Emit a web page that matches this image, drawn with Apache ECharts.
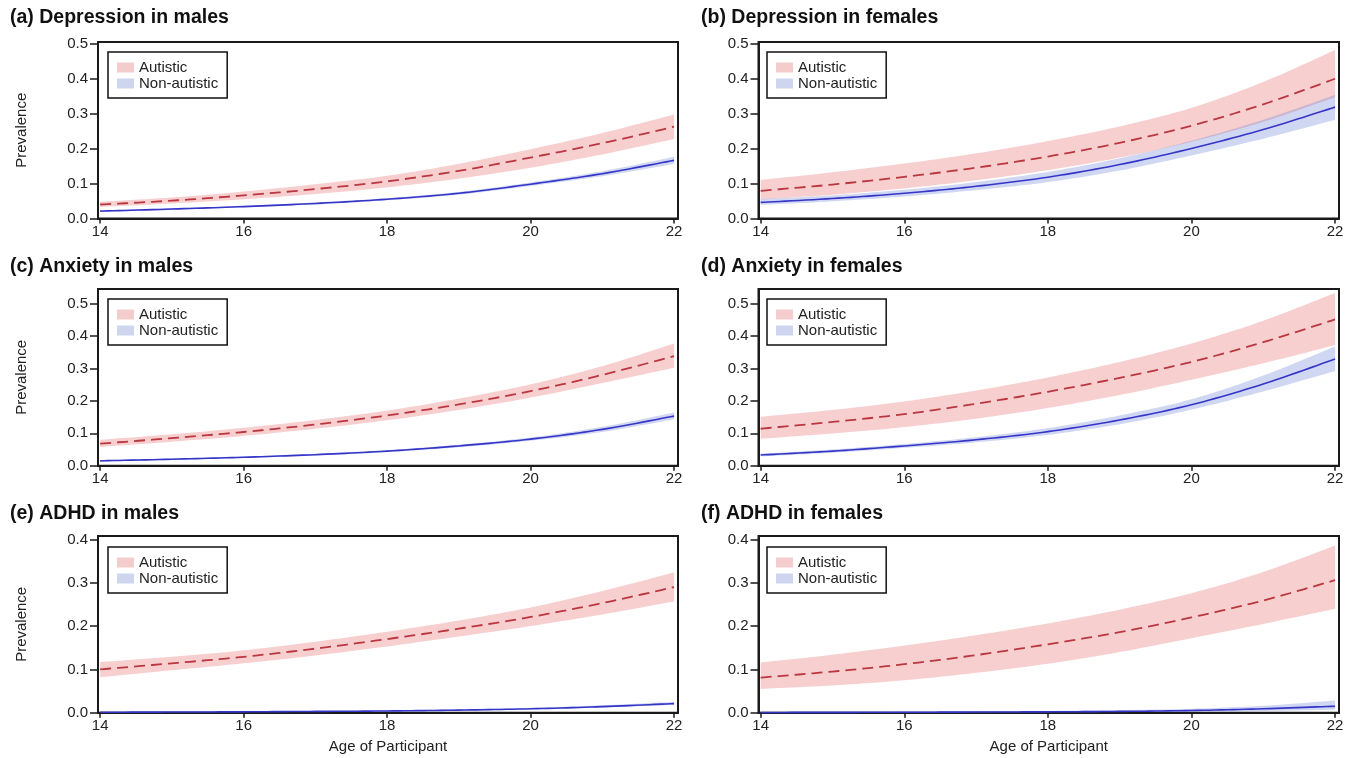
<!DOCTYPE html>
<html>
<head>
<meta charset="utf-8">
<script src="https://cdn.jsdelivr.net/npm/echarts@6/dist/echarts.min.js"></script>
<style>
html,body{margin:0;padding:0;background:#fff;}
#chart{width:1357px;height:758px;}
</style>
</head>
<body>
<div id="chart"></div>
<script>
// ---- DATA ----
const ages = [14, 15, 16, 17, 18, 19, 20, 21, 22];
const xTicks = [14, 16, 18, 20, 22];
const yTicks05 = [0, 0.1, 0.2, 0.3, 0.4, 0.5];
const yTicks04 = [0, 0.1, 0.2, 0.3, 0.4];
const panelTitles = ['(a) Depression in males', '(b) Depression in females', '(c) Anxiety in males',
  '(d) Anxiety in females', '(e) ADHD in males', '(f) ADHD in females'];
const groupNames = ['Autistic', 'Non-autistic'];

// (a) Depression, males
const depMaleAutMean = [0.040, 0.051, 0.066, 0.084, 0.106, 0.136, 0.174, 0.215, 0.262];
const depMaleAutLow  = [0.033, 0.043, 0.055, 0.070, 0.089, 0.114, 0.145, 0.183, 0.227];
const depMaleAutHigh = [0.048, 0.060, 0.077, 0.098, 0.122, 0.156, 0.198, 0.244, 0.297];
const depMaleNonMean = [0.021, 0.027, 0.034, 0.043, 0.055, 0.072, 0.098, 0.128, 0.166];
const depMaleNonLow  = [0.019, 0.025, 0.032, 0.040, 0.052, 0.068, 0.093, 0.121, 0.156];
const depMaleNonHigh = [0.023, 0.029, 0.036, 0.046, 0.058, 0.076, 0.103, 0.135, 0.176];
// (b) Depression, females
const depFemAutMean = [0.079, 0.097, 0.119, 0.145, 0.177, 0.216, 0.265, 0.326, 0.399];
const depFemAutLow  = [0.054, 0.068, 0.086, 0.109, 0.138, 0.174, 0.219, 0.276, 0.346];
const depFemAutHigh = [0.110, 0.132, 0.157, 0.186, 0.221, 0.263, 0.316, 0.390, 0.481];
const depFemNonMean = [0.046, 0.057, 0.072, 0.092, 0.118, 0.154, 0.200, 0.254, 0.318];
const depFemNonLow  = [0.039, 0.049, 0.063, 0.081, 0.104, 0.137, 0.180, 0.228, 0.282];
const depFemNonHigh = [0.055, 0.066, 0.082, 0.104, 0.133, 0.172, 0.222, 0.282, 0.353];
// (c) Anxiety, males
const anxMaleAutMean = [0.068, 0.085, 0.104, 0.127, 0.155, 0.189, 0.230, 0.280, 0.338];
const anxMaleAutLow  = [0.058, 0.074, 0.092, 0.114, 0.140, 0.172, 0.210, 0.255, 0.302];
const anxMaleAutHigh = [0.080, 0.097, 0.117, 0.141, 0.170, 0.207, 0.251, 0.307, 0.377];
const anxMaleNonMean = [0.015, 0.020, 0.026, 0.034, 0.045, 0.061, 0.082, 0.112, 0.153];
const anxMaleNonLow  = [0.013, 0.018, 0.024, 0.032, 0.042, 0.057, 0.077, 0.104, 0.143];
const anxMaleNonHigh = [0.017, 0.022, 0.028, 0.037, 0.048, 0.065, 0.087, 0.120, 0.164];
// (d) Anxiety, females
const anxFemAutMean = [0.114, 0.135, 0.159, 0.191, 0.228, 0.271, 0.320, 0.381, 0.451];
const anxFemAutLow  = [0.083, 0.099, 0.119, 0.145, 0.178, 0.218, 0.265, 0.316, 0.372];
const anxFemAutHigh = [0.151, 0.172, 0.198, 0.232, 0.272, 0.320, 0.377, 0.447, 0.533];
const anxFemNonMean = [0.033, 0.045, 0.061, 0.080, 0.105, 0.141, 0.188, 0.252, 0.329];
const anxFemNonLow  = [0.029, 0.040, 0.055, 0.072, 0.095, 0.128, 0.173, 0.229, 0.292];
const anxFemNonHigh = [0.037, 0.050, 0.067, 0.088, 0.116, 0.155, 0.205, 0.278, 0.368];
// (e) ADHD, males
const adhdMaleAutMean = [0.100, 0.114, 0.129, 0.148, 0.170, 0.194, 0.221, 0.253, 0.290];
const adhdMaleAutLow  = [0.082, 0.098, 0.114, 0.132, 0.153, 0.176, 0.200, 0.227, 0.257];
const adhdMaleAutHigh = [0.117, 0.129, 0.144, 0.164, 0.187, 0.213, 0.243, 0.281, 0.324];
const adhdMaleNonMean = [0.001, 0.0015, 0.002, 0.003, 0.004, 0.006, 0.009, 0.014, 0.021];
const adhdMaleNonLow  = [0.0005, 0.001, 0.0015, 0.002, 0.003, 0.005, 0.008, 0.012, 0.018];
const adhdMaleNonHigh = [0.0015, 0.002, 0.003, 0.004, 0.005, 0.008, 0.011, 0.017, 0.025];
// (f) ADHD, females
const adhdFemAutMean = [0.081, 0.095, 0.112, 0.133, 0.158, 0.186, 0.220, 0.259, 0.306];
const adhdFemAutLow  = [0.055, 0.063, 0.075, 0.092, 0.113, 0.140, 0.172, 0.205, 0.240];
const adhdFemAutHigh = [0.116, 0.134, 0.155, 0.179, 0.206, 0.238, 0.276, 0.325, 0.386];
const adhdFemNonMean = [0.0005, 0.0008, 0.001, 0.0015, 0.002, 0.003, 0.005, 0.009, 0.015];
const adhdFemNonLow  = [0.0002, 0.0003, 0.0005, 0.0007, 0.001, 0.0015, 0.002, 0.004, 0.007];
const adhdFemNonHigh = [0.001, 0.0015, 0.002, 0.003, 0.004, 0.006, 0.009, 0.016, 0.028];

const panelData = [
  [depMaleAutMean, depMaleAutLow, depMaleAutHigh, depMaleNonMean, depMaleNonLow, depMaleNonHigh, yTicks05],
  [depFemAutMean, depFemAutLow, depFemAutHigh, depFemNonMean, depFemNonLow, depFemNonHigh, yTicks05],
  [anxMaleAutMean, anxMaleAutLow, anxMaleAutHigh, anxMaleNonMean, anxMaleNonLow, anxMaleNonHigh, yTicks05],
  [anxFemAutMean, anxFemAutLow, anxFemAutHigh, anxFemNonMean, anxFemNonLow, anxFemNonHigh, yTicks05],
  [adhdMaleAutMean, adhdMaleAutLow, adhdMaleAutHigh, adhdMaleNonMean, adhdMaleNonLow, adhdMaleNonHigh, yTicks04],
  [adhdFemAutMean, adhdFemAutLow, adhdFemAutHigh, adhdFemNonMean, adhdFemNonLow, adhdFemNonHigh, yTicks04]
];

// ---- LAYOUT / STYLE ----
const FONT = "'Liberation Sans', Arial, sans-serif";
const layout = [
  {left: 98,    top: 42,  width: 580,   height: 176.5, yMax: 0.504, tl: 10,  tt: 8,   ll: 108, lt: 52,  yName: true,  xName: false},
  {left: 758.5, top: 42,  width: 580.5, height: 176.5, yMax: 0.504, tl: 701, tt: 8,   ll: 767, lt: 52,  yName: false, xName: false},
  {left: 98,    top: 289, width: 580,   height: 176.7, yMax: 0.545, tl: 10,  tt: 257, ll: 108, lt: 299, yName: true,  xName: false},
  {left: 758.5, top: 289, width: 580.5, height: 176.7, yMax: 0.545, tl: 701, tt: 257, ll: 767, lt: 299, yName: false, xName: false},
  {left: 98,    top: 536, width: 580,   height: 176.7, yMax: 0.408, tl: 10,  tt: 504, ll: 108, lt: 547, yName: true,  xName: true},
  {left: 758.5, top: 536, width: 580.5, height: 176.7, yMax: 0.408, tl: 701, tt: 504, ll: 767, lt: 547, yName: false, xName: true}
];
const AUT_LINE = '#ba3740', NON_LINE = '#3535c8';
const AUT_BAND = 'rgba(233,128,128,0.38)', NON_BAND = 'rgba(110,130,215,0.32)';
const AUT_SWATCH = '#f5cccc', NON_SWATCH = '#cdd5ef';

const pts = arr => ages.map((a, i) => [a, arr[i]]);

// Smooth (Catmull-Rom) curve through pixel points returned by the axis scales
function spline(P, steps) {
  const out = [];
  const n = P.length;
  for (let i = 0; i < n - 1; i++) {
    const p0 = P[Math.max(i - 1, 0)], p1 = P[i], p2 = P[i + 1], p3 = P[Math.min(i + 2, n - 1)];
    const m1 = [(p2[0] - p0[0]) / 2, (p2[1] - p0[1]) / 2];
    const m2 = [(p3[0] - p1[0]) / 2, (p3[1] - p1[1]) / 2];
    for (let s = 0; s < steps; s++) {
      const t = s / steps, t2 = t * t, t3 = t2 * t;
      const h00 = 2 * t3 - 3 * t2 + 1, h10 = t3 - 2 * t2 + t, h01 = -2 * t3 + 3 * t2, h11 = t3 - t2;
      out.push([h00 * p1[0] + h10 * m1[0] + h01 * p2[0] + h11 * m2[0],
                h00 * p1[1] + h10 * m1[1] + h01 * p2[1] + h11 * m2[1]]);
    }
  }
  out.push(P[n - 1]);
  return out;
}

function bandSeries(name, p, lo, hi, color, z) {
  return {
    type: 'custom', name, xAxisIndex: p, yAxisIndex: p, z, silent: true,
    itemStyle: {color},
    data: ages.map((a, i) => [a, lo[i], hi[i]]),
    encode: {x: 0, y: [1, 2]},
    renderItem: function (params, api) {
      if (params.dataIndex !== 0) return null;
      const up = spline(ages.map((a, i) => api.coord([a, hi[i]])), 12);
      const dn = spline(ages.map((a, i) => api.coord([a, lo[i]])), 12).reverse();
      return {type: 'polygon', shape: {points: up.concat(dn)}, style: {fill: color}, silent: true};
    }
  };
}

function meanSeries(name, p, vals, lineStyle) {
  return {
    type: 'custom', name, xAxisIndex: p, yAxisIndex: p, z: 5, silent: true,
    data: pts(vals), encode: {x: 0, y: 1},
    renderItem: function (params, api) {
      if (params.dataIndex !== 0) return null;
      const line = spline(ages.map((a, i) => api.coord([a, vals[i]])), 12);
      return {type: 'polyline', shape: {points: line},
        style: Object.assign({fill: null}, lineStyle), silent: true};
    }
  };
}

const grid = [], xAxis = [], yAxis = [], series = [], title = [], legend = [];
layout.forEach((L, p) => {
  const [aM, aL, aH, nM, nL, nH, yT] = panelData[p];
  grid.push({left: L.left, top: L.top, width: L.width, height: L.height, show: true,
    borderColor: '#1a1a1a', borderWidth: 2, backgroundColor: 'transparent'});
  xAxis.push({type: 'value', gridIndex: p, min: 13.97, max: 22.055,
    axisLine: {show: true, lineStyle: {color: '#1a1a1a', width: 2}},
    axisTick: {show: true, length: 5, customValues: xTicks, lineStyle: {color: '#1a1a1a', width: 1.5}},
    axisLabel: {customValues: xTicks, color: '#222', fontSize: 15, fontFamily: FONT, margin: 6},
    splitLine: {show: false},
    name: L.xName ? 'Age of Participant' : '', nameLocation: 'middle', nameGap: 27,
    nameTextStyle: {color: '#222', fontSize: 15, fontFamily: FONT}});
  yAxis.push({type: 'value', gridIndex: p, min: 0, max: L.yMax,
    axisLine: {show: true, lineStyle: {color: '#1a1a1a', width: 2}},
    axisTick: {show: true, length: 8, customValues: yT, lineStyle: {color: '#1a1a1a', width: 1.5}},
    axisLabel: {customValues: yT, color: '#222', fontSize: 15, fontFamily: FONT, margin: 10,
      formatter: v => v.toFixed(1)},
    splitLine: {show: false},
    name: L.yName ? 'Prevalence' : '', nameLocation: 'middle', nameGap: 69, nameRotate: 90,
    nameTextStyle: {color: '#222', fontSize: 15, fontFamily: FONT}});
  title.push({text: panelTitles[p], left: L.tl, top: L.tt, padding: 0,
    textStyle: {fontSize: 19.5, fontWeight: 'bold', color: '#111', fontFamily: FONT}});
  legend.push({left: L.ll, top: L.lt, orient: 'vertical', padding: [8, 9, 7, 9], itemGap: 1,
    itemWidth: 17, itemHeight: 10, borderColor: '#111', borderWidth: 1.5, backgroundColor: '#fff',
    selectedMode: false,
    textStyle: {fontSize: 15, color: '#222', fontFamily: FONT},
    data: [{name: groupNames[0], icon: 'rect', itemStyle: {color: AUT_SWATCH, borderWidth: 0}},
           {name: groupNames[1], icon: 'rect', itemStyle: {color: NON_SWATCH, borderWidth: 0}}]});
  series.push(bandSeries(groupNames[0], p, aL, aH, AUT_BAND, 2));
  series.push(bandSeries(groupNames[1], p, nL, nH, NON_BAND, 3));
  series.push(meanSeries('aut-mean-' + p, p, aM, {stroke: AUT_LINE, lineWidth: 1.8, lineDash: [11, 6]}));
  series.push(meanSeries('non-mean-' + p, p, nM, {stroke: NON_LINE, lineWidth: 1.6}));
});

const chart = echarts.init(document.getElementById('chart'), null, {renderer: 'canvas'});
chart.setOption({animation: false, backgroundColor: '#fff', title, legend, grid, xAxis, yAxis, series});
</script>
</body>
</html>
